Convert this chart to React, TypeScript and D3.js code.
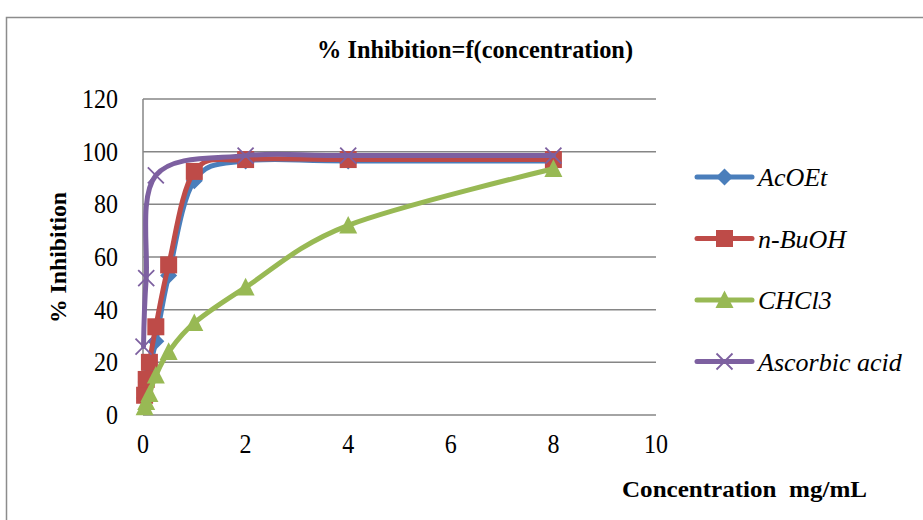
import React from "react";
import * as d3 from "d3";

const extractConc = [0.03125, 0.0625, 0.125, 0.25, 0.5, 1, 2, 4, 8];
const acoetValues = [6.5, 12.5, 18, 28, 53, 89, 96.5, 96.5, 96.5];
const buohValues = [7.5, 13.5, 20, 33.5, 57, 92.5, 97, 97, 97];
const chcl3Values = [3, 5, 8, 15, 24, 35, 48.5, 72, 93.5];
const ascorbicConc = [0.01, 0.0625, 0.25, 2, 4, 8];
const ascorbicValues = [26, 52, 91, 98.5, 98.5, 98.5];

const seriesNames = ["AcOEt", "n-BuOH", "CHCl3", "Ascorbic acid"];
const seriesColors = ["#4a7ebb", "#be4b48", "#98b954", "#7d60a0"];
const seriesMarkers = ["diamond", "square", "triangle", "x"];
const xTicks = [0, 2, 4, 6, 8, 10];
const yTicks = [0, 20, 40, 60, 80, 100, 120];

const title = "% Inhibition=f(concentration)";
const xTitle = "Concentration  mg/mL";
const yTitle = "% Inhibition";

const FONT = "'Liberation Serif', 'DejaVu Serif', serif";

function Marker({ type, x, y, color }: { type: string; x: number; y: number; color: string }) {
  if (type === "diamond") {
    const s = 8.5;
    return <path d={`M${x},${y - s}L${x + s},${y}L${x},${y + s}L${x - s},${y}Z`} fill={color} />;
  }
  if (type === "square") {
    const s = 8.5;
    return <rect x={x - s} y={y - s} width={2 * s} height={2 * s} fill={color} />;
  }
  if (type === "triangle") {
    const s = 9;
    return <path d={`M${x},${y - s * 1.05}L${x + s},${y + s * 0.9}L${x - s},${y + s * 0.9}Z`} fill={color} />;
  }
  const s = 8;
  return (
    <path d={`M${x - s},${y - s}L${x + s},${y + s}M${x + s},${y - s}L${x - s},${y + s}`} stroke={color} strokeWidth={1.8} fill="none" />
  );
}

export default function App() {
  const x = d3.scaleLinear().domain([0, 10]).range([143, 656]);
  const y = d3.scaleLinear().domain([0, 120]).range([415, 99]);

  const series = [
    { xs: extractConc, ys: acoetValues },
    { xs: extractConc, ys: buohValues },
    { xs: extractConc, ys: chcl3Values },
    { xs: ascorbicConc, ys: ascorbicValues },
  ];

  const line = d3
    .line<[number, number]>()
    .x((d) => x(d[0]))
    .y((d) => y(d[1]))
    .curve(d3.curveCardinal.tension(0));

  const legendY = [177, 238.5, 300, 361.5];

  return (
    <svg width={923} height={520} style={{ position: "absolute", left: 0, top: 0, background: "#fff" }}>
      <rect x={6.5} y={17.5} width={940} height={540} fill="none" stroke="#8c8c8c" strokeWidth={1.5} />

      {/* gridlines */}
      {yTicks.map((t) => (
        <line key={t} x1={143} x2={656} y1={y(t)} y2={y(t)} stroke="#868686" strokeWidth={1.5} />
      ))}
      <line x1={143} x2={143} y1={y(120)} y2={y(0)} stroke="#868686" strokeWidth={1.5} />

      {/* y tick labels */}
      {yTicks.map((t) => {
        const s = String(t);
        const len = 12 * s.length;
        return (
          <text key={t} x={118 - len} y={y(t) + 9} fontFamily={FONT} fontSize={27} textLength={len} lengthAdjust="spacingAndGlyphs" fill="#000">
            {s}
          </text>
        );
      })}
      {/* x tick labels */}
      {xTicks.map((t) => {
        const s = String(t);
        const len = 12 * s.length;
        return (
          <text key={t} x={x(t) - len / 2} y={453} fontFamily={FONT} fontSize={27} textLength={len} lengthAdjust="spacingAndGlyphs" fill="#000">
            {s}
          </text>
        );
      })}

      {/* series */}
      {series.map((s, i) => {
        const pts: [number, number][] = s.xs.map((v, j) => [v, s.ys[j]]);
        return (
          <g key={i}>
            <path d={line(pts) || ""} fill="none" stroke={seriesColors[i]} strokeWidth={5} strokeLinejoin="round" strokeLinecap="round" />
            {pts.map((p, j) => (
              <Marker key={j} type={seriesMarkers[i]} x={x(p[0])} y={y(p[1])} color={seriesColors[i]} />
            ))}
          </g>
        );
      })}

      {/* legend */}
      {seriesNames.map((n, i) => (
        <g key={n}>
          <line x1={697} x2={752} y1={legendY[i]} y2={legendY[i]} stroke={seriesColors[i]} strokeWidth={5} strokeLinecap="round" />
          <Marker type={seriesMarkers[i]} x={724.5} y={legendY[i]} color={seriesColors[i]} />
          <text x={758} y={legendY[i] + 9} fontFamily={FONT} fontStyle="italic" fontSize={26} fill="#000">
            {n}
          </text>
        </g>
      ))}

      {/* titles */}
      <text x={317} y={58} fontFamily={FONT} fontWeight="bold" fontSize={25} textLength={316} lengthAdjust="spacingAndGlyphs" fill="#000">
        {title}
      </text>
      <text x={622} y={497} fontFamily={FONT} fontWeight="bold" fontSize={23} textLength={245} lengthAdjust="spacingAndGlyphs" fill="#000" style={{ whiteSpace: "pre" }}>
        {xTitle}
      </text>
      <text transform="translate(66,257.5) rotate(-90)" x={-65.5} y={0} fontFamily={FONT} fontWeight="bold" fontSize={23} textLength={131} lengthAdjust="spacingAndGlyphs" fill="#000">
        {yTitle}
      </text>
    </svg>
  );
}
